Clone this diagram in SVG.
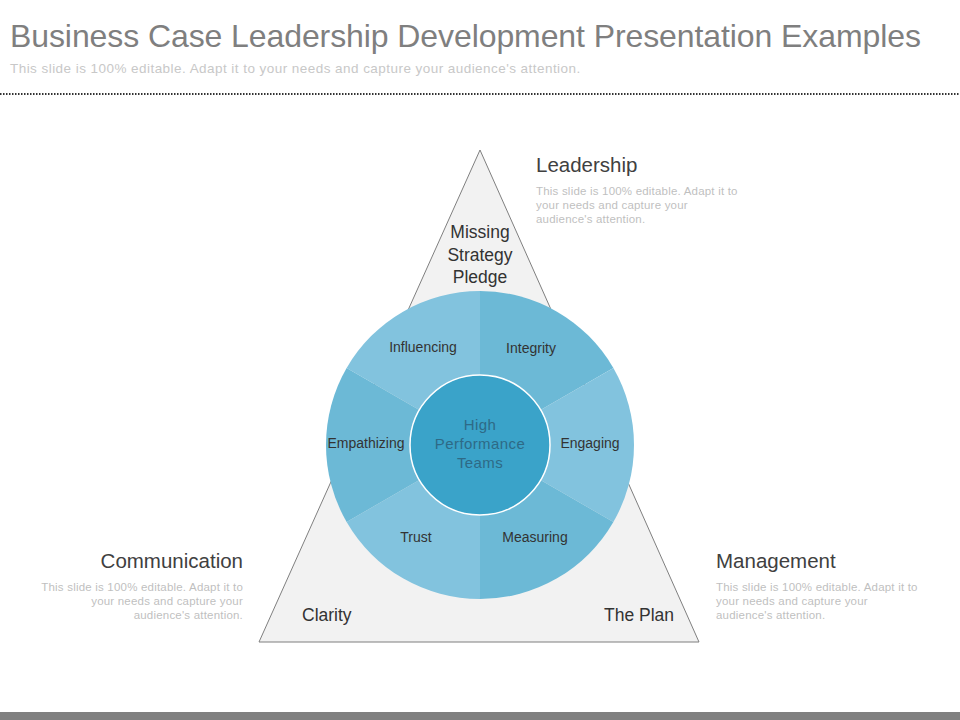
<svg xmlns="http://www.w3.org/2000/svg" width="960" height="720" viewBox="0 0 960 720">
<style>
.t{font-family:"Liberation Sans",Arial,sans-serif}
.head{font-size:20.5px;fill:#404040}
.body{font-size:11.5px;fill:#bfbfbf;letter-spacing:0.2px}
.tri{font-size:17.5px;fill:#333333}
.seg{font-size:14px;fill:#333333}
.lt{fill:#82c3de}
.dk{fill:#6cb9d6}
</style>
<rect width="960" height="720" fill="#ffffff"/>
<text class="t" x="10" y="47" font-size="32" fill="#7f7f7f" letter-spacing="-0.09">Business Case Leadership Development Presentation Examples</text>
<text class="t" x="10" y="73" font-size="13.5" fill="#c8c8c8" letter-spacing="0.45">This slide is 100% editable. Adapt it to your needs and capture your audience's attention.</text>
<line x1="0" y1="94" x2="960" y2="94" stroke="#333333" stroke-width="2" stroke-dasharray="1.5,1.5"/>
<rect x="0" y="712" width="960" height="8" fill="#808080"/>

<g id="triangle">
<polygon points="480,150 259,642 699,642" fill="#f2f2f2" stroke="#7f7f7f" stroke-width="1"/>
<text class="t tri" text-anchor="middle"><tspan x="480" y="238">Missing</tspan><tspan x="480" y="261">Strategy</tspan><tspan x="480" y="283">Pledge</tspan></text>
<text class="t tri" x="302" y="621">Clarity</text>
<text class="t tri" x="674" y="621" text-anchor="end">The Plan</text>
</g>

<g id="wheel">
<g id="influencing"><path class="lt" d="M480,445 L346.63,368 A154,154 0 0,1 480,291 Z"/><text class="t seg" x="423" y="352" text-anchor="middle">Influencing</text></g>
<g id="integrity"><path class="dk" d="M480,445 L480,291 A154,154 0 0,1 613.37,368 Z"/><text class="t seg" x="531" y="353" text-anchor="middle">Integrity</text></g>
<g id="engaging"><path class="lt" d="M480,445 L613.37,368 A154,154 0 0,1 613.37,522 Z"/><text class="t seg" x="590" y="448" text-anchor="middle">Engaging</text></g>
<g id="measuring"><path class="dk" d="M480,445 L613.37,522 A154,154 0 0,1 480,599 Z"/><text class="t seg" x="535" y="542" text-anchor="middle">Measuring</text></g>
<g id="trust"><path class="lt" d="M480,445 L480,599 A154,154 0 0,1 346.63,522 Z"/><text class="t seg" x="416" y="542" text-anchor="middle">Trust</text></g>
<g id="empathizing"><path class="dk" d="M480,445 L346.63,522 A154,154 0 0,1 346.63,368 Z"/><text class="t seg" x="366" y="448" text-anchor="middle">Empathizing</text></g>
<g id="center">
<circle cx="480" cy="445" r="70" fill="#3aa3c9" stroke="#ffffff" stroke-width="1.5"/>
<text class="t" font-size="15" fill="#2e6a86" letter-spacing="0.4" text-anchor="middle"><tspan x="480" y="430">High</tspan><tspan x="480" y="449">Performance</tspan><tspan x="480" y="468">Teams</tspan></text>
</g>
</g>

<g id="leadership">
<text class="t head" x="536" y="172">Leadership</text>
<text class="t body"><tspan x="536" y="195">This slide is 100% editable. Adapt it to</tspan><tspan x="536" y="209">your needs and capture your</tspan><tspan x="536" y="223">audience's attention.</tspan></text>
</g>
<g id="communication">
<text class="t head" x="243" y="568" text-anchor="end">Communication</text>
<text class="t body" text-anchor="end"><tspan x="243" y="591">This slide is 100% editable. Adapt it to</tspan><tspan x="243" y="605">your needs and capture your</tspan><tspan x="243" y="619">audience's attention.</tspan></text>
</g>
<g id="management">
<text class="t head" x="716" y="568">Management</text>
<text class="t body"><tspan x="716" y="591">This slide is 100% editable. Adapt it to</tspan><tspan x="716" y="605">your needs and capture your</tspan><tspan x="716" y="619">audience's attention.</tspan></text>
</g>
<g id="connectors"/>
</svg>
